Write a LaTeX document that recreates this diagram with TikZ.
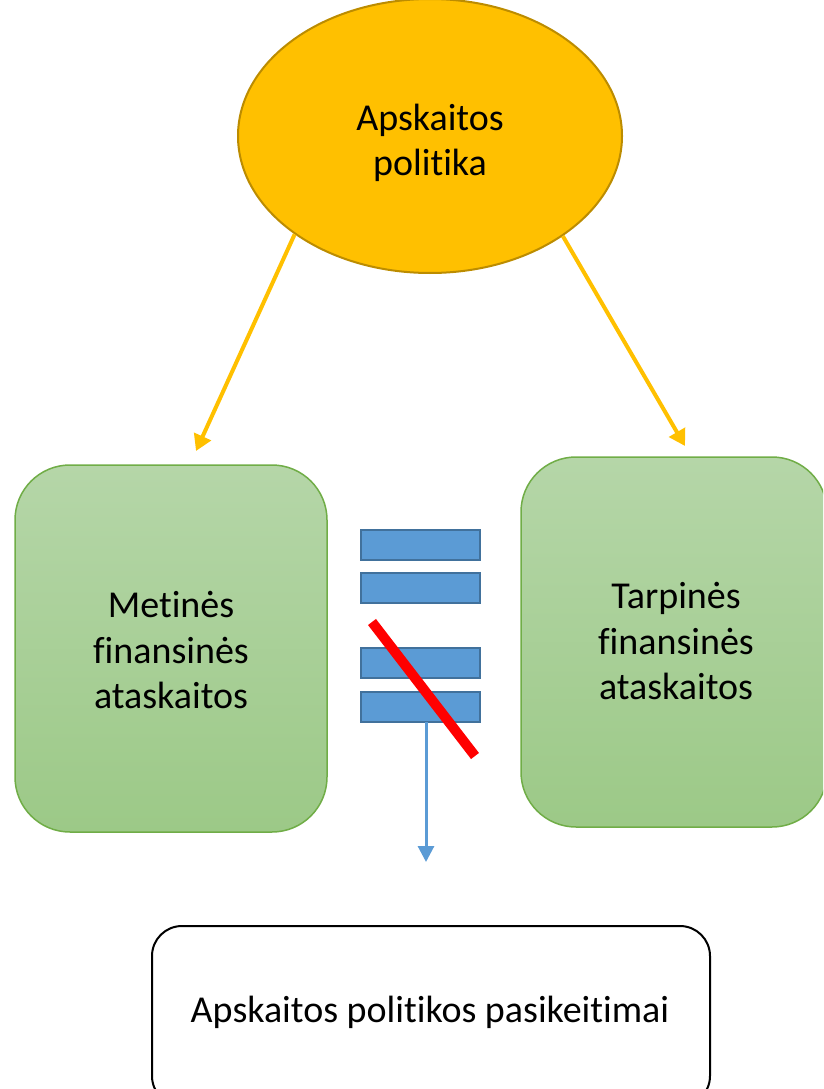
\documentclass[tikz,border=0pt]{standalone}
\usepackage{fontspec}
\setmainfont{Carlito}[Ligatures={NoCommon}]
\usetikzlibrary{arrows.meta,shapes.geometric}
\definecolor{gold}{HTML}{FFC000}
\definecolor{golddark}{HTML}{BC8C00}
\definecolor{gtop}{HTML}{B5D6A8}
\definecolor{gbot}{HTML}{9CC987}
\definecolor{gline}{HTML}{70AD47}
\definecolor{bfill}{HTML}{5B9BD5}
\definecolor{bline}{HTML}{41719C}
\tikzset{
  txt/.style={font=\fontsize{38}{45.5}\selectfont, align=center, text=black},
  greenbox/.style={draw=gline, line width=1.5pt, rounded corners=55pt, top color=gtop, bottom color=gbot, inner sep=0pt},
  bluebar/.style={draw=bline, line width=2pt, fill=bfill, minimum width=119pt, minimum height=30pt, inner sep=0pt},
  yarrow/.style={draw=gold, line width=4pt, -{Triangle[length=16pt,width=18pt]}},
  barrow/.style={draw=bfill, line width=3pt, -{Triangle[length=16pt,width=16pt]}},
}
\begin{document}
\begin{tikzpicture}[x=1pt,y=-1pt]
\useasboundingbox (0,0) rectangle (823,1089);
\clip (0,0) rectangle (823,1089);
% ellipse
\node[ellipse, draw=golddark, line width=2pt, fill=gold, minimum width=384pt, minimum height=274pt, inner sep=0pt] (pol) at (430,136) {};
\node[txt] (poltxt) at (430,143) {Apskaitos\\politika};
% green boxes
\node[greenbox, minimum width=312pt, minimum height=367pt] (met) at (171,648.5) {};
\node[txt] (mettxt) at (171,650) {Metinės\\finansinės\\ataskaitos};
\node[greenbox, minimum width=306pt, minimum height=370pt] (tarp) at (674,642) {};
\node[txt] (tarptxt) at (676,641) {Tarpinės\\finansinės\\ataskaitos};
% blue bars
\node[bluebar] (b1) at (420.5,544.5) {};
\node[bluebar] (b2) at (420.5,588) {};
\node[bluebar] (b3) at (420.5,663) {};
\node[bluebar] (b4) at (420.5,707) {};
% red strike
\coordinate (rs) at (372,622);
\coordinate (re) at (475,756);
\draw[red, line width=10pt] (rs) -- (re);
% blue arrow
\coordinate (bt) at (426,722);
\coordinate (bh) at (426,862);
\draw[barrow] (bt) -- (bh);
% yellow arrows
\coordinate (lt) at (196,451);
\coordinate (rt) at (685,446);
\draw[yarrow] (pol.216.3) -- (lt);
\draw[yarrow] (pol.323.7) -- (rt);
% bottom box
\node[draw=black, line width=2pt, rounded corners=30pt, minimum width=558pt, minimum height=180pt, inner sep=0pt, fill=white] (chg) at (431,1016) {};
\node[txt] (chgtxt) at (430,1012) {Apskaitos politikos pasikeitimai};
\end{tikzpicture}
\end{document}
